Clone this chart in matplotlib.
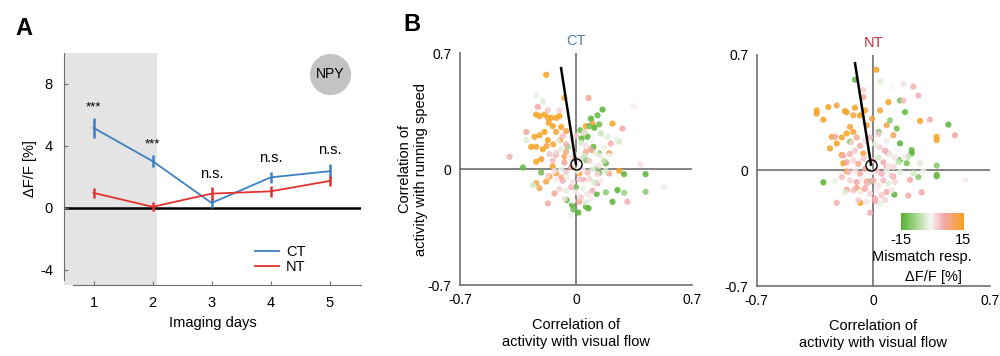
import numpy as np
import matplotlib.pyplot as plt
from matplotlib.colors import LinearSegmentedColormap

plt.rcParams['font.family'] = ['Liberation Sans', 'DejaVu Sans']
plt.rcParams['axes.unicode_minus'] = False

# ---- panel A data ----
days = [1, 2, 3, 4, 5]
ct_mean = [5.15, 3.0, 0.3, 1.95, 2.35]
ct_err = [0.65, 0.4, 0.3, 0.35, 0.45]
nt_mean = [0.95, 0.05, 0.9, 1.05, 1.72]
nt_err = [0.3, 0.3, 0.4, 0.35, 0.35]
sig_labels = ['***', '***', 'n.s.', 'n.s.', 'n.s.']
sig_y = [6.45, 4.1, 2.2, 3.2, 3.7]

# ---- panel B data: (visual flow corr, running corr, mismatch dF/F) ----
ct_pts = [
    # orange
    (-0.18, 0.57, 15), (-0.07, 0.43, 13), (-0.24, 0.33, 15), (-0.22, 0.32, 14), (-0.19, 0.33, 15),
    (-0.17, 0.31, 13), (-0.15, 0.31, 15), (-0.12, 0.31, 14), (-0.10, 0.32, 15), (-0.165, 0.28, 14),
    (-0.14, 0.26, 15), (-0.12, 0.225, 13), (-0.25, 0.195, 15), (-0.22, 0.205, 14), (-0.19, 0.225, 15),
    (-0.17, 0.175, 15), (-0.137, 0.15, 13), (-0.097, 0.175, 14), (-0.27, 0.135, 15), (-0.24, 0.135, 14),
    (-0.20, 0.12, 15), (-0.177, 0.14, 13), (-0.24, 0.045, 15), (-0.21, 0.06, 14), (-0.14, 0.015, 15),
    (-0.12, -0.025, 13), (-0.16, -0.045, 14), (-0.18, -0.075, 12), (0.06, 0.26, 14), (0.10, 0.275, 13),
    (0.22, 0.275, 15), (-0.09, 0.255, 14), (-0.06, 0.23, 13), (0.20, 0.095, 12), (0.26, -0.01, 14),
    (-0.22, -0.115, 11), (-0.24, -0.085, 12), (0.02, -0.025, 13), (-0.07, 0.075, 12), (0.10, 0.115, 13),
    # green
    (-0.32, 0.01, -14), (-0.21, -0.02, -13), (0.16, 0.36, -15), (0.13, 0.325, -14), (0.09, 0.305, -15),
    (0.14, 0.27, -13), (0.11, 0.25, -15), (0.08, 0.26, -12), (0.05, 0.22, -14), (0.07, 0.195, -15),
    (0.026, 0.235, -13), (0.034, 0.185, -15), (0.105, 0.135, -14), (0.14, 0.095, -12), (0.18, 0.035, -14),
    (0.29, -0.03, -15), (0.42, -0.03, -15), (0.14, -0.022, -13), (0.12, 0.004, -11), (0.25, -0.127, -15),
    (0.22, -0.197, -15), (0.125, -0.15, -14), (-0.056, -0.187, -14), (-0.024, -0.217, -15), (-0.016, -0.243, -13),
    (0.014, -0.262, -15), (0.06, -0.227, -14), (0.076, -0.237, -15), (0.18, -0.14, -10), (0.29, -0.143, -9),
    (0.42, -0.137, -10), (0.0, -0.11, -12), (0.06, 0.055, -11), (-0.05, 0.135, -9),
    # pink
    (0.076, 0.43, 7), (-0.23, 0.376, 6), (-0.40, 0.075, 5), (-0.30, 0.225, 7), (0.28, 0.245, 6),
    (0.02, -0.197, 7), (0.31, -0.197, 5), (-0.09, -0.05, 8), (0.044, -0.066, 6), (0.06, 0.105, 7),
    (-0.02, 0.07, 6), (0.21, 0.155, 5), (-0.13, -0.147, 7), (-0.17, -0.207, 6), (0.13, -0.087, 5),
    (-0.06, 0.105, 8), (-0.12, 0.085, 6), (0.20, -0.026, 7),
    # pale
    (-0.24, 0.447, -2), (-0.20, 0.41, -3), (0.35, 0.38, 0), (0.39, 0.028, 1), (0.53, -0.107, 0),
    (-0.03, -0.278, -2), (-0.26, -0.097, -4), (-0.30, 0.175, -3), (0.26, 0.165, -4), (0.245, 0.18, -2),
    (-0.10, 0.356, 2), (-0.17, 0.356, 3), (0.15, 0.215, -5), (0.19, 0.195, -3),
    # core
    (-0.12, 0.10, 2), (-0.09, 0.12, -3), (-0.06, 0.15, 5), (-0.03, 0.18, -1), (0.0, 0.20, 3),
    (0.03, 0.16, -4), (0.06, 0.14, 1), (0.09, 0.12, 6), (0.12, 0.10, -2), (0.15, 0.08, 0),
    (-0.14, 0.05, 4), (-0.10, 0.06, -1), (-0.07, 0.04, 7), (-0.04, 0.07, 0), (-0.01, 0.09, -3),
    (0.02, 0.06, 2), (0.05, 0.08, -5), (0.08, 0.05, 3), (0.11, 0.03, -1), (0.14, 0.02, 1),
    (0.17, 0.05, -6), (-0.13, -0.01, 1), (-0.09, 0.0, -2), (-0.06, -0.02, 3), (-0.03, 0.01, 6),
    (0.01, -0.01, -1), (0.04, 0.0, 0), (0.07, -0.02, 4), (0.10, 0.0, -3), (0.13, -0.03, 2),
    (0.18, -0.01, -4), (-0.12, -0.06, 0), (-0.08, -0.07, 5), (-0.05, -0.05, -2), (-0.02, -0.08, 1),
    (0.02, -0.06, 3), (0.05, -0.09, -1), (0.08, -0.06, 2), (0.11, -0.08, -4), (0.15, -0.07, 0),
    (-0.10, -0.12, 2), (-0.06, -0.13, -3), (-0.03, -0.11, 4), (0.00, -0.14, 0), (0.04, -0.12, -2),
    (0.07, -0.15, 1), (0.10, -0.13, 5), (0.13, -0.12, -1), (-0.07, -0.18, 1), (-0.02, -0.19, -1),
    (0.03, -0.17, 3), (0.06, -0.20, -3), (0.09, -0.18, 0), (-0.08, 0.20, 4), (-0.11, 0.17, -2),
    (0.05, 0.22, 1), (0.10, 0.18, -1), (-0.16, 0.09, 3), (0.17, 0.13, -2), (-0.17, -0.04, 2),
    (0.20, 0.08, -1),
]

nt_pts = [
    # orange
    (0.018, 0.61, 15), (-0.34, 0.364, 15), (-0.34, 0.344, 14), (-0.30, 0.308, 15), (-0.27, 0.384, 15),
    (-0.22, 0.394, 12), (-0.17, 0.36, 15), (-0.16, 0.352, 14), (-0.11, 0.38, 15), (-0.12, 0.334, 13),
    (-0.08, 0.334, 15), (-0.05, 0.364, 14), (0.04, 0.364, 13), (0.09, 0.414, 15), (0.28, 0.30, 15),
    (0.38, 0.204, 15), (0.38, 0.184, 14), (-0.26, 0.134, 15), (-0.19, 0.20, 14), (-0.16, 0.224, 15),
    (-0.14, 0.264, 13), (-0.19, 0.094, 14), (-0.18, 0.044, 15), (-0.12, 0.234, 14), (-0.06, 0.104, 13),
    (-0.078, -0.196, 15), (-0.04, 0.274, 14), (-0.008, 0.314, 13), (0.08, 0.274, 12), (0.12, 0.214, 11),
    (-0.22, 0.164, 15), (-0.25, 0.204, 13), (-0.078, -0.126, 12), (-0.16, -0.006, 13),
    # green
    (-0.11, 0.55, -14), (-0.30, -0.072, -15), (0.45, 0.278, -15), (0.14, 0.254, -13), (0.16, 0.424, -12),
    (0.19, 0.354, -14), (0.16, 0.164, -15), (0.23, 0.124, -14), (0.23, 0.104, -15), (0.16, 0.064, -13),
    (0.20, 0.044, -12), (0.38, 0.03, -11), (0.38, -0.026, -14), (0.38, -0.036, -13), (0.27, -0.04, -10),
    (0.126, -0.146, -15), (0.10, 0.304, -10), (0.032, 0.234, -11), (-0.018, -0.066, -9), (-0.14, 0.174, -12),
    # pink
    (-0.06, 0.444, 6), (0.49, 0.214, 6), (0.34, 0.308, 5), (0.24, 0.508, 5), (0.27, 0.454, 5),
    (0.18, 0.424, 4), (0.08, 0.024, 7), (0.21, -0.152, 6), (0.29, -0.132, 6), (-0.23, 0.204, 7),
    (-0.10, -0.106, 8), (0.012, -0.186, 6), (-0.02, -0.256, 5), (-0.22, -0.196, 5), (0.22, -0.056, 6),
    (0.12, -0.036, 7), (-0.16, -0.116, 7), (-0.04, -0.066, 8), (0.09, 0.104, 6),
    # pale
    (0.042, 0.538, -3), (0.11, 0.50, -1), (0.18, 0.524, 1), (-0.06, 0.488, 2), (0.55, -0.058, 0),
    (-0.23, -0.066, -2), (-0.17, -0.132, -3), (0.24, -0.016, -4), (0.30, -0.006, -2), (0.28, 0.044, -3),
    (0.21, 0.084, -5),
    # core
    (-0.14, 0.10, 5), (-0.11, 0.12, 3), (-0.08, 0.15, 6), (-0.05, 0.18, 1), (-0.02, 0.20, 4),
    (0.01, 0.16, -3), (0.04, 0.14, 2), (0.07, 0.12, 5), (0.10, 0.10, -2), (0.13, 0.08, 1),
    (-0.16, 0.05, 6), (-0.12, 0.06, 2), (-0.09, 0.04, 8), (-0.06, 0.07, 3), (-0.03, 0.09, -2),
    (0.00, 0.06, 4), (0.03, 0.08, -4), (0.06, 0.05, 5), (0.09, 0.03, 0), (0.12, 0.02, 2),
    (0.15, 0.05, -5), (-0.15, -0.01, 4), (-0.11, 0.0, 1), (-0.08, -0.02, 6), (-0.05, 0.01, 7),
    (-0.01, -0.01, 0), (0.02, 0.0, 3), (0.05, -0.02, 5), (0.08, 0.0, -2), (0.11, -0.03, 3),
    (0.16, -0.01, -3), (-0.14, -0.06, 2), (-0.10, -0.07, 6), (-0.07, -0.05, 0), (-0.04, -0.08, 4),
    (0.00, -0.06, 5), (0.03, -0.09, 1), (0.06, -0.06, 4), (0.09, -0.08, -3), (0.13, -0.07, 2),
    (-0.12, -0.12, 4), (-0.08, -0.13, -1), (-0.05, -0.11, 6), (-0.02, -0.14, 2), (0.02, -0.12, 0),
    (0.05, -0.15, 3), (0.08, -0.13, 6), (0.11, -0.12, 1), (-0.09, -0.18, 3), (-0.04, -0.19, 1),
    (0.01, -0.17, 5), (0.04, -0.20, -2), (0.07, -0.18, 2), (-0.10, 0.20, 7), (-0.13, 0.17, 2),
    (0.03, 0.22, 3), (0.08, 0.18, 0), (-0.18, 0.09, 5), (0.15, 0.13, -1), (-0.19, -0.04, 4),
    (0.18, 0.08, 0),
]

# population mean vectors: start (circle) and end of line
ct_vec = [(0.0, 0.03), (-0.09, 0.61)]
nt_vec = [(-0.014, 0.035), (-0.11, 0.65)]

ct_col = '#3d80c2'
nt_col = '#e2312f'
grey = '#6e6e6e'

fig = plt.figure(figsize=(10, 3.56), dpi=100)

# ===================== panel A =====================
ax = fig.add_axes([0.064, 0.1994, 0.297, 0.6525])
ax.axvspan(0.5, 2.08, color='#e4e4e4', lw=0, zorder=0)
ax.axhline(0, color='k', lw=1.8, zorder=1)
ax.errorbar(days, ct_mean, yerr=ct_err, color=ct_col, lw=1.3, elinewidth=1.8, capsize=0, zorder=3, label='CT')
ax.errorbar(days, nt_mean, yerr=nt_err, color=nt_col, lw=1.3, elinewidth=1.8, capsize=0, zorder=3, label='NT')
for d, lab, yy in zip(days, sig_labels, sig_y):
    ax.text(d, yy, lab, ha='center', va='center', fontsize=9.5 if lab == '***' else 10.5)

ax.scatter([5.0], [8.6], s=880, color='#c3c3c3', lw=0, zorder=2)
ax.text(5.0, 8.6, 'NPY', ha='center', va='center', fontsize=10)

ax.set_xlim(0.5, 5.53)
ax.set_ylim(-5, 10)
ax.set_xticks(days)
ax.set_yticks([-4, 0, 4, 8])
for s in ['top', 'right']:
    ax.spines[s].set_visible(False)
ax.spines['left'].set_bounds(-4.7, 10)
ax.spines['bottom'].set_bounds(0.65, 5.53)
for s in ['left', 'bottom']:
    ax.spines[s].set_color(grey)
ax.tick_params(direction='in', length=3, color=grey, labelsize=10.5, pad=8)
ax.set_xlabel('Imaging days', fontsize=10.5, labelpad=4)
ax.set_ylabel('ΔF/F [%]', fontsize=10.5, labelpad=2)
h, l = ax.get_legend_handles_labels()
ax.legend([hh[0] for hh in h], l, frameon=False, loc='lower left', bbox_to_anchor=(0.6, -0.01),
          handlelength=1.6, labelspacing=0.05, handletextpad=0.5, fontsize=10.5)

fig.text(0.015, 0.92, 'A', fontsize=17, fontweight='bold', va='center')
fig.text(0.403, 0.93, 'B', fontsize=17, fontweight='bold', va='center')

# ===================== panel B =====================
cmap = LinearSegmentedColormap.from_list(
    'mm', [(0.0, '#57b233'), (0.25, '#a8d890'), (0.47, '#f8f8f8'), (0.68, '#f3a9ad'), (1.0, '#f6a11b')])


def scatter_panel(pos, pts, vec, title, tcol, show_ylabel):
    a = fig.add_axes(pos)
    arr = np.array(pts)
    a.axhline(0, color=grey, lw=1.2, zorder=1)
    a.axvline(0, color=grey, lw=1.2, zorder=1)
    a.scatter(arr[:, 0], arr[:, 1], c=arr[:, 2], cmap=cmap, vmin=-15, vmax=15,
              s=20, lw=0, alpha=0.85, zorder=2)
    (x0, y0), (x1, y1) = vec
    a.plot([x0, x1], [y0, y1], color='k', lw=1.8, zorder=4)
    a.plot([x0], [y0], 'o', mfc='none', mec='k', ms=8, mew=1.0, zorder=5)
    a.set_xlim(-0.7, 0.7)
    a.set_ylim(-0.7, 0.7)
    a.set_xticks([-0.7, 0, 0.7])
    a.set_yticks([-0.7, 0, 0.7])
    a.set_xticklabels(['-0.7', '0', '0.7'])
    a.set_yticklabels(['-0.7', '0', '0.7'])
    for s in ['top', 'right']:
        a.spines[s].set_visible(False)
    for s in ['left', 'bottom']:
        a.spines[s].set_color(grey)
        a.spines[s].set_linewidth(1.2)
    a.tick_params(length=0, labelsize=10, pad=6)
    a.set_title(title, color=tcol, fontsize=10.5, pad=6)
    a.set_xlabel('Correlation of\nactivity with visual flow', fontsize=10.5, labelpad=8, linespacing=1.2)
    if show_ylabel:
        a.set_ylabel('Correlation of\nactivity with running speed', fontsize=10.5, labelpad=0, linespacing=1.2)
    return a


scatter_panel([0.46, 0.1994, 0.232, 0.651], ct_pts, ct_vec, 'CT', '#4a7db3', True)
scatter_panel([0.7567, 0.1966, 0.2333, 0.649], nt_pts, nt_vec, 'NT', '#b8303f', False)

# colour bar
cax = fig.add_axes([0.901, 0.354, 0.062, 0.0486])
cax.imshow(np.linspace(-15, 15, 256)[None, :], aspect='auto', cmap=cmap, vmin=-15, vmax=15)
cax.set_axis_off()
fig.text(0.901, 0.325, '-15', ha='center', va='center', fontsize=10.5)
fig.text(0.963, 0.325, '15', ha='center', va='center', fontsize=10.5)
fig.text(0.9215, 0.279, 'Mismatch resp.', ha='center', va='center', fontsize=10.5)
fig.text(0.933, 0.223, 'ΔF/F [%]', ha='center', va='center', fontsize=10.5)

fig.savefig('out.png', dpi=100)
